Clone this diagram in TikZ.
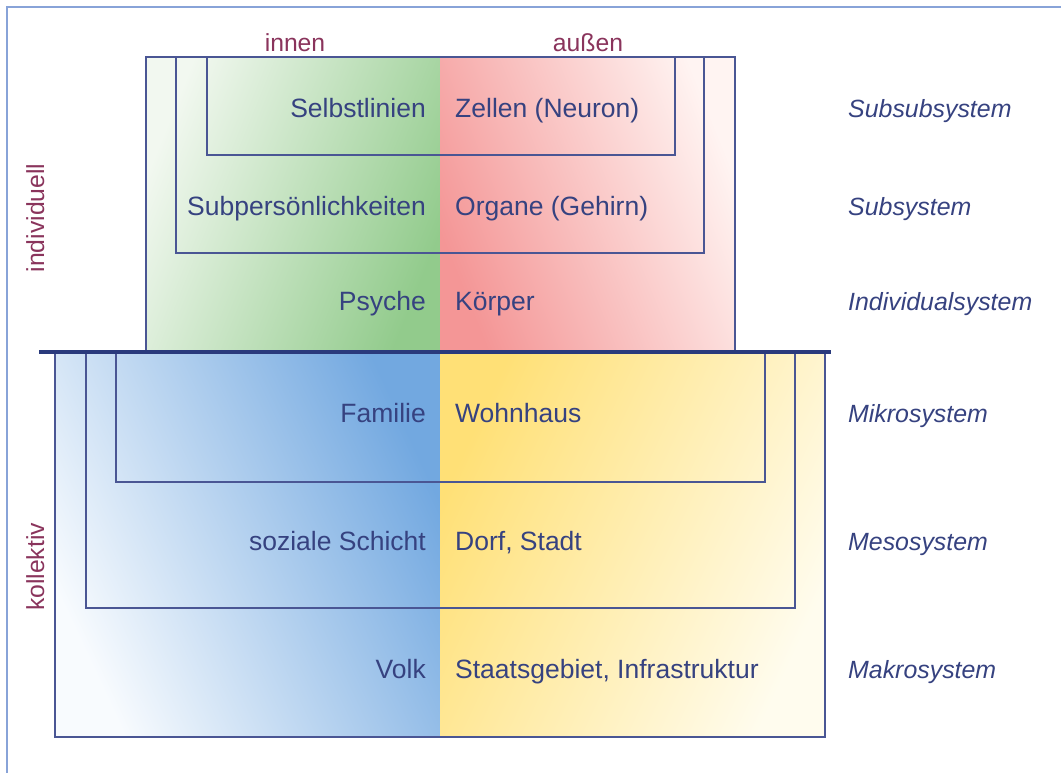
\documentclass[tikz,border=0pt]{standalone}
\usepackage{fontspec}
\setmainfont{Liberation Sans}
% text and line colours
\definecolor{txtblue}{RGB}{54,66,128}
\definecolor{labred}{RGB}{138,52,92}
\definecolor{edgeblue}{RGB}{74,86,148}
\definecolor{barblue}{RGB}{42,58,124}
\definecolor{frameblue}{RGB}{136,163,216}
% quadrant shading colours (strong / light)
\definecolor{greenS}{RGB}{146,203,140}
\definecolor{greenL}{RGB}{242,248,240}
\definecolor{redS}{RGB}{244,150,150}
\definecolor{redL}{RGB}{255,244,242}
\definecolor{blueS}{RGB}{114,168,224}
\definecolor{blueL}{RGB}{248,251,254}
\definecolor{yellowS}{RGB}{255,224,118}
\definecolor{yellowL}{RGB}{255,252,238}
\tikzset{
  boxline/.style={draw=edgeblue, line width=1.4pt},
  lefttext/.style={inner sep=0pt, anchor=base east, text=txtblue,
                   font=\fontsize{26.5}{30}\selectfont},
  righttext/.style={inner sep=0pt, anchor=base west, text=txtblue,
                    font=\fontsize{26.5}{30}\selectfont},
  syslabel/.style={inner sep=0pt, anchor=base west, text=txtblue,
                   font=\fontsize{24.9}{28}\selectfont\itshape},
  sidelabel/.style={inner sep=0pt, anchor=base, text=labred,
                    font=\fontsize{24.7}{28}\selectfont}
}
\begin{document}
\begin{tikzpicture}[x=1pt,y=-1pt]
\useasboundingbox (0,0) rectangle (1061,773);
\fill[white] (0,0) rectangle (1061,773);

% outer frame (left and top edges)
\draw[frameblue, line width=2.2pt] (7,773) -- (7,7) -- (1061,7);

% shaded quadrants
\shade[top color=greenL, bottom color=greenS, shading angle=68] (146,57) rectangle (440,352);
\shade[top color=redL, bottom color=redS, shading angle=-68] (440,57) rectangle (735,352);
\shade[top color=blueL, bottom color=blueS, shading angle=115] (55,352) rectangle (440,737);
\shade[top color=yellowL, bottom color=yellowS, shading angle=-115] (440,352) rectangle (825,737);

% individual levels
\draw[boxline] (146,352) -- (146,57) -- (735,57) -- (735,352);
\draw[boxline] (176,57) -- (176,253) -- (704,253) -- (704,57);
\draw[boxline] (207,57) -- (207,155) -- (675,155) -- (675,57);

% collective levels
\draw[boxline] (55,352) -- (55,737) -- (825,737) -- (825,352);
\draw[boxline] (86,352) -- (86,608) -- (795,608) -- (795,352);
\draw[boxline] (116,352) -- (116,482) -- (765,482) -- (765,352);

% dividing bar
\draw[barblue, line width=4pt] (39,352) -- (831,352);

% column headings
\node[sidelabel] (innen) at (295,52) {innen};
\node[sidelabel] (aussen) at (588,52) {außen};
\node[sidelabel, rotate=90] (indiv) at (44,218) {individuell};
\node[sidelabel, rotate=90] (koll) at (44,567) {kollektiv};

% rows
\node[lefttext] (selbst) at (426,118) {Selbstlinien};
\node[righttext] (zellen) at (455,118) {Zellen (Neuron)};
\node[syslabel] (subsub) at (848,118) {Subsubsystem};

\node[lefttext] (subpers) at (426,215) {Subpersönlichkeiten};
\node[righttext] (organe) at (455,215) {Organe (Gehirn)};
\node[syslabel] (subsys) at (848,215) {Subsystem};

\node[lefttext] (psyche) at (426,310) {Psyche};
\node[righttext] (koerper) at (455,310) {Körper};
\node[syslabel] (indsys) at (848,310) {Individualsystem};

\node[lefttext] (familie) at (426,422) {Familie};
\node[righttext] (wohnhaus) at (455,422) {Wohnhaus};
\node[syslabel] (mikro) at (848,422) {Mikrosystem};

\node[lefttext] (schicht) at (426,550) {soziale Schicht};
\node[righttext] (dorf) at (455,550) {Dorf, Stadt};
\node[syslabel] (meso) at (848,550) {Mesosystem};

\node[lefttext] (volk) at (426,678) {Volk};
\node[righttext] (staat) at (455,678) {Staatsgebiet, Infrastruktur};
\node[syslabel] (makro) at (848,678) {Makrosystem};
\end{tikzpicture}
\end{document}
